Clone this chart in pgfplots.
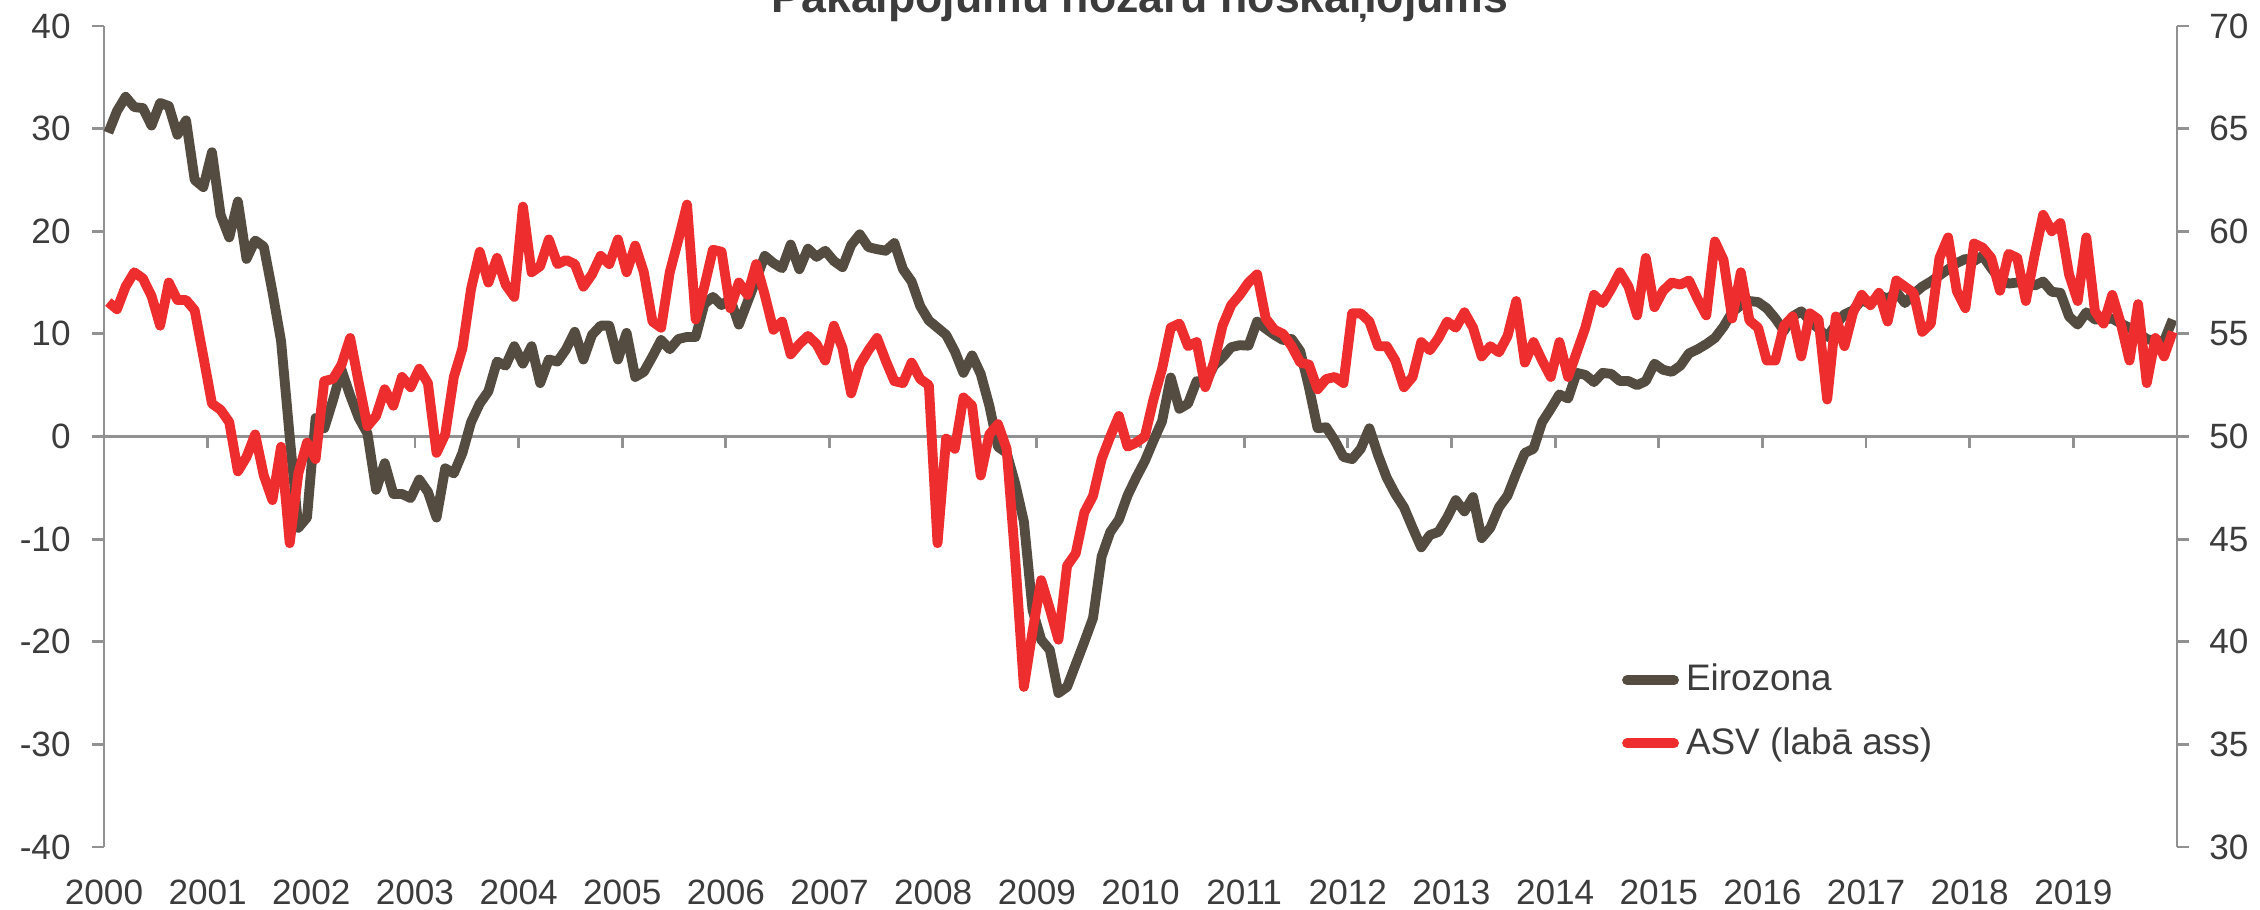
\documentclass[border=0pt]{standalone}
\usepackage{fontspec}
\setmainfont{Liberation Sans}
\usepackage{pgfplots}
\usepackage{pgfplotstable}
\pgfplotsset{compat=1.18}
\definecolor{ez}{RGB}{84,76,64}
\definecolor{us}{RGB}{237,45,46}
\definecolor{axg}{RGB}{145,145,145}
\definecolor{txt}{RGB}{60,60,60}

\pgfplotstableread[row sep=\\]{
i E A \\
0 29.6 56.55 \\ 1 31.7 56.2 \\ 2 33.1 57.3 \\ 3 32.1 58.0 \\ 4 32.0 57.7 \\ 5 30.3 56.85 \\ 6 32.5 55.4 \\ 7 32.2 57.5 \\ 8 29.4 56.65 \\ 9 30.8 56.65 \\ 10 25.0 56.15 \\ 11 24.3 53.9 \\
12 27.7 51.6 \\ 13 21.6 51.3 \\ 14 19.4 50.7 \\ 15 22.9 48.3 \\ 16 17.3 49.0 \\ 17 19.1 50.1 \\ 18 18.5 48.1 \\ 19 14.1 46.9 \\ 20 9.3 49.5 \\ 21 0.0 44.8 \\ 22 -8.9 48.2 \\ 23 -7.9 49.7 \\
24 1.8 48.9 \\ 25 0.8 52.7 \\ 26 3.5 52.8 \\ 27 6.5 53.5 \\ 28 4.0 54.8 \\ 29 1.8 52.6 \\ 30 0.3 50.5 \\ 31 -5.2 51.0 \\ 32 -2.6 52.3 \\ 33 -5.6 51.5 \\ 34 -5.6 52.9 \\ 35 -6.0 52.4 \\
36 -4.2 53.3 \\ 37 -5.4 52.6 \\ 38 -7.9 49.2 \\ 39 -3.1 50.1 \\ 40 -3.6 52.9 \\ 41 -1.6 54.3 \\ 42 1.4 57.2 \\ 43 3.2 59.0 \\ 44 4.4 57.5 \\ 45 7.3 58.7 \\ 46 6.9 57.4 \\ 47 8.8 56.8 \\
48 7.1 61.2 \\ 49 8.8 58.0 \\ 50 5.2 58.3 \\ 51 7.5 59.6 \\ 52 7.3 58.4 \\ 53 8.5 58.6 \\ 54 10.2 58.4 \\ 55 7.5 57.3 \\ 56 9.9 57.9 \\ 57 10.8 58.8 \\ 58 10.8 58.4 \\ 59 7.5 59.6 \\
60 10.1 58.0 \\ 61 5.8 59.3 \\ 62 6.3 58.0 \\ 63 7.8 55.6 \\ 64 9.4 55.3 \\ 65 8.5 58.0 \\ 66 9.5 59.6 \\ 67 9.7 61.3 \\ 68 9.7 55.7 \\ 69 12.9 57.3 \\ 70 13.6 59.1 \\ 71 12.8 59.0 \\
72 13.4 56.25 \\ 73 10.9 57.5 \\ 74 13.1 56.9 \\ 75 15.3 58.4 \\ 76 17.6 56.9 \\ 77 16.9 55.2 \\ 78 16.4 55.6 \\ 79 18.7 54.0 \\ 80 16.3 54.5 \\ 81 18.3 54.9 \\ 82 17.5 54.5 \\ 83 18.1 53.7 \\
84 17.1 55.4 \\ 85 16.5 54.3 \\ 86 18.65 52.1 \\ 87 19.7 53.5 \\ 88 18.45 54.2 \\ 89 18.25 54.8 \\ 90 18.1 53.7 \\ 91 18.85 52.7 \\ 92 16.3 52.6 \\ 93 15.1 53.6 \\ 94 12.7 52.8 \\ 95 11.3 52.5 \\
96 10.6 44.8 \\ 97 9.9 49.9 \\ 98 8.3 49.4 \\ 99 6.2 51.9 \\ 100 7.9 51.5 \\ 101 6.1 48.1 \\ 102 3.0 50.1 \\ 103 -1.0 50.6 \\ 104 -1.6 49.4 \\ 105 -4.6 44.0 \\ 106 -8.3 37.8 \\ 107 -16.9 40.5 \\
108 -19.8 43.0 \\ 109 -20.8 41.6 \\ 110 -25.0 40.1 \\ 111 -24.4 43.7 \\ 112 -22.2 44.3 \\ 113 -20.0 46.3 \\ 114 -17.7 47.1 \\ 115 -11.7 48.9 \\ 116 -9.3 50.0 \\ 117 -8.1 51.0 \\ 118 -5.75 49.5 \\ 119 -4.0 49.7 \\
120 -2.4 50.0 \\ 121 -0.4 51.8 \\ 122 1.5 53.3 \\ 123 5.75 55.3 \\ 124 2.7 55.5 \\ 125 3.2 54.4 \\ 126 5.4 54.6 \\ 127 5.2 52.4 \\ 128 6.9 53.6 \\ 129 7.7 55.4 \\ 130 8.7 56.4 \\ 131 8.9 56.9 \\
132 8.85 57.5 \\ 133 11.2 57.9 \\ 134 10.5 55.75 \\ 135 9.9 55.2 \\ 136 9.4 55.0 \\ 137 9.5 54.4 \\ 138 8.3 53.6 \\ 139 4.8 53.5 \\ 140 0.8 52.3 \\ 141 0.9 52.8 \\ 142 -0.4 52.9 \\ 143 -2.0 52.6 \\
144 -2.2 56.0 \\ 145 -1.2 56.0 \\ 146 0.8 55.6 \\ 147 -1.8 54.4 \\ 148 -4.0 54.4 \\ 149 -5.6 53.7 \\ 150 -6.9 52.4 \\ 151 -8.9 52.9 \\ 152 -10.8 54.6 \\ 153 -9.6 54.2 \\ 154 -9.3 54.8 \\ 155 -7.9 55.6 \\
156 -6.2 55.3 \\ 157 -7.3 56.05 \\ 158 -5.9 55.3 \\ 159 -9.9 53.9 \\ 160 -8.9 54.4 \\ 161 -6.9 54.1 \\ 162 -5.75 54.9 \\ 163 -3.6 56.6 \\ 164 -1.6 53.6 \\ 165 -1.2 54.6 \\ 166 1.4 53.7 \\ 167 2.7 52.9 \\
168 4.1 54.6 \\ 169 3.7 52.9 \\ 170 6.2 54.1 \\ 171 6.0 55.3 \\ 172 5.3 56.9 \\ 173 6.2 56.5 \\ 174 6.1 57.2 \\ 175 5.4 58.0 \\ 176 5.4 57.3 \\ 177 5.0 55.9 \\ 178 5.4 58.7 \\ 179 7.1 56.3 \\
180 6.5 57.1 \\ 181 6.3 57.5 \\ 182 6.9 57.4 \\ 183 8.1 57.6 \\ 184 8.5 56.7 \\ 185 9.0 55.9 \\ 186 9.6 59.5 \\ 187 10.7 58.6 \\ 188 12.1 55.75 \\ 189 12.8 58.0 \\ 190 13.2 55.65 \\ 191 13.1 55.3 \\
192 12.5 53.7 \\ 193 11.5 53.7 \\ 194 10.3 55.4 \\ 195 11.7 55.85 \\ 196 12.2 53.9 \\ 197 11.3 56.0 \\ 198 10.5 55.7 \\ 199 9.7 51.8 \\ 200 10.9 55.85 \\ 201 11.9 54.4 \\ 202 12.3 56.05 \\ 203 13.3 56.9 \\
204 12.9 56.4 \\ 205 13.8 57.0 \\ 206 13.4 55.6 \\ 207 14.1 57.6 \\ 208 13.0 57.3 \\ 209 13.9 57.0 \\ 210 14.6 55.1 \\ 211 15.1 55.5 \\ 212 15.7 58.7 \\ 213 16.3 59.7 \\ 214 16.9 57.1 \\ 215 17.3 56.25 \\
216 17.1 59.4 \\ 217 17.6 59.2 \\ 218 16.4 58.7 \\ 219 15.3 57.1 \\ 220 14.9 58.9 \\ 221 15.0 58.7 \\ 222 15.1 56.6 \\ 223 14.7 58.8 \\ 224 15.1 60.8 \\ 225 14.1 60.0 \\ 226 14.0 60.4 \\ 227 11.7 57.9 \\
228 10.9 56.6 \\ 229 12.1 59.7 \\ 230 11.4 56.1 \\ 231 11.4 55.5 \\ 232 11.5 56.9 \\ 233 11.0 55.5 \\ 234 10.6 53.7 \\ 235 10.1 56.45 \\ 236 9.5 52.6 \\ 237 9.3 54.8 \\ 238 9.3 53.9 \\ 239 11.4 55.1 \\
}\data

\pgfplotsset{
  base/.style={
    scale only axis, width=20.73cm, height=8.21cm,
    at={(1.04cm,0.63cm)}, anchor=south west,
    xmin=-0.5, xmax=239.5,
    xtick={-0.5,11.5,23.5,35.5,47.5,59.5,71.5,83.5,95.5,107.5,119.5,131.5,143.5,155.5,167.5,179.5,191.5,203.5,215.5,227.5},
    font=\fontsize{10}{12}\selectfont,
    tick label style={font=\fontsize{10}{12}\selectfont, text=txt},
    /pgf/number format/assume math mode=true,
    tick align=outside,
    major tick length=0.12cm,
    every tick/.style={axg, line width=0.8pt},
    axis line style={axg, line width=0.8pt},
    clip=false,
  }
}

\begin{document}
\begin{tikzpicture}
\begin{axis}[base,
    axis x line*=middle, axis y line*=left,
    ymin=-40, ymax=40, ytick={-40,-30,...,40},
    yticklabel style={xshift=-0.09cm},
    xticklabels={},
    x tick style={axg, line width=0.8pt},
  ]
  \addplot[ez, line width=2.8pt, line join=round] table[x=i, y=E]{\data};
\end{axis}
\begin{axis}[base,
    axis x line*=bottom, axis y line*=right,
    x axis line style={draw=none}, x tick style={draw=none},
    ymin=30, ymax=70, ytick={30,35,...,70},
    yticklabel style={xshift=0.08cm},
    xticklabel style={yshift=-0.09cm},
    xticklabels={2000,2001,2002,2003,2004,2005,2006,2007,2008,2009,2010,2011,2012,2013,2014,2015,2016,2017,2018,2019},
    legend style={at={(0.732,0.232)}, anchor=north west, draw=none, fill=none,
      inner sep=0pt, row sep=0.17cm, font=\fontsize{10.5}{12.6}\selectfont, text=txt,
      cells={anchor=west}},
    legend image code/.code={\draw[#1, line cap=round] (0cm,0cm) -- (0.47cm,0cm);},
  ]
  \addlegendimage{ez, line width=2.8pt}
  \addlegendentry{Eirozona}
  \addplot[us, line width=2.8pt, line join=round] table[x=i, y=A]{\data};
  \addlegendentry{ASV (labā ass)}
\end{axis}
\node[font=\fontsize{12.7}{15}\selectfont\bfseries, text=txt, anchor=base] at (11.40cm,8.97cm) {Pakalpojumu nozaru noskaņojums};
\pgfresetboundingbox
\useasboundingbox (0,0) rectangle (22.6cm,9.1cm);
\end{tikzpicture}
\end{document}
